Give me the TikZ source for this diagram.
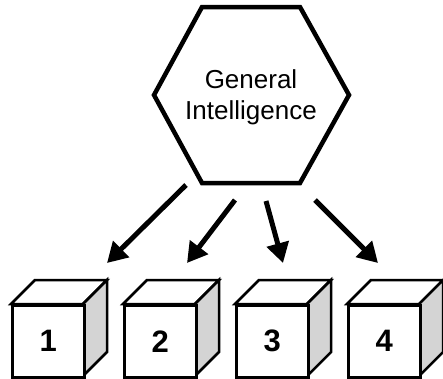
\documentclass[tikz,border=0pt]{standalone}
\usepackage{fontspec}
\setmainfont{Liberation Sans}
\usetikzlibrary{arrows.meta}
\begin{document}
\begin{tikzpicture}[x=1pt,y=-1pt,
  hexline/.style={line width=4.5pt,line join=miter},
  cubeface/.style={draw,line width=2.5pt,fill=white,minimum width=72pt,minimum height=72pt,inner sep=0pt,font=\fontsize{31}{31}\bfseries\selectfont},
  cubeedge/.style={line width=2.5pt,line join=miter},
  bigarrow/.style={line width=5pt,-{Triangle[length=20pt,width=22pt]}}]
\useasboundingbox (0,0) rectangle (443,378);
% hexagon
\draw[hexline] (202,7) -- (300,7) -- (349,95) -- (300,183) -- (202,183) -- (154,95) -- cycle;
\node[align=center,font=\fontsize{26}{31}\selectfont] (hex) at (251,97) {General\\Intelligence};
% cubes
\foreach \i/\x in {1/11,2/123,3/235,4/347}{
  \draw[cubeedge,fill=white] (\x,304) -- (\x+24,280) -- (\x+96,280) -- (\x+72,304) -- cycle;
  \draw[cubeedge,fill=black!17] (\x+72,304) -- (\x+96,280) -- (\x+96,352) -- (\x+72,376) -- cycle;
  \node[cubeface,anchor=north west] (c\i) at (\x,304) {\i};
}
% arrows
\coordinate (s1) at (186,185); \coordinate (e1) at (107,263);
\coordinate (s2) at (235,200); \coordinate (e2) at (187,263);
\coordinate (s3) at (266,201); \coordinate (e3) at (283,263);
\coordinate (s4) at (315,200); \coordinate (e4) at (378,263);
\foreach \i in {1,2,3,4}{\draw[bigarrow] (s\i) -- (e\i);}
\end{tikzpicture}
\end{document}
